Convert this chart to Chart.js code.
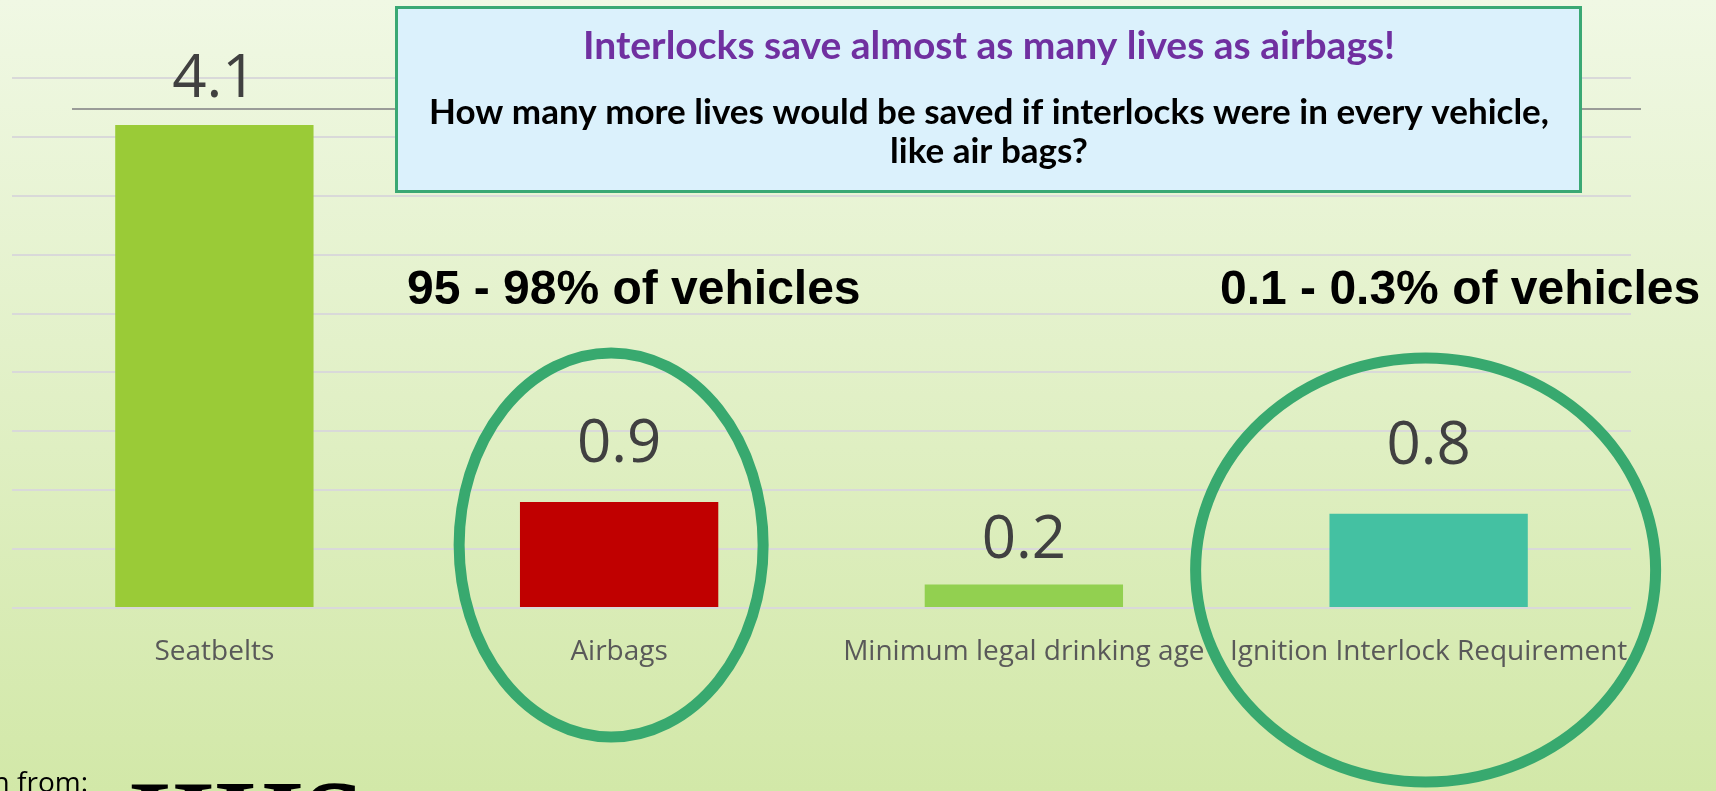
<!DOCTYPE html>
<html>
<head>
<meta charset="utf-8">
<script src="https://cdn.jsdelivr.net/npm/chart.js@4.4.1/dist/chart.umd.min.js"></script>
<style>
  html, body { margin: 0; padding: 0; overflow: hidden; }
  #wrap { width: 1716px; height: 791px; }
</style>
</head>
<body>
<div id="wrap"><canvas id="myChart" width="1716" height="791"></canvas></div>
<script>
// Chart data
const categories = ['Seatbelts', 'Airbags', 'Minimum legal drinking age', 'Ignition Interlock Requirement'];
const livesSaved = [4.1, 0.9, 0.2, 0.8];
const barColors = ['#9acb37', '#c00000', '#92d050', '#44c1a2'];
const yMin = 0;
const yMax = 4.5;
const yStep = 0.5;

// Text on the slide
const boxTitle = 'Interlocks save almost as many lives as airbags!';
const boxLines = ['How many more lives would be saved if interlocks were in every vehicle,', 'like air bags?'];
const shareNotes = ['95 - 98% of vehicles', '0.1 - 0.3% of vehicles'];

// How far each value label sits above its bar (px)
const labelLift = [45, 57, 44, 67];

const ringColor = '#38a96f';

// Slide background
const backgroundPlugin = {
    id: 'slideBackground',
    beforeDraw(chart) {
        const ctx = chart.ctx;
        const g = ctx.createLinearGradient(0, 0, 0, chart.height);
        g.addColorStop(0, '#f0f8e4');
        g.addColorStop(1, '#d2e8a8');
        ctx.save();
        ctx.fillStyle = g;
        ctx.fillRect(0, 0, chart.width, chart.height);
        ctx.restore();
    }
};

// Value labels above the bars
const valueLabelPlugin = {
    id: 'valueLabels',
    afterDatasetsDraw(chart) {
        const ctx = chart.ctx;
        const meta = chart.getDatasetMeta(0);
        ctx.save();
        ctx.fillStyle = '#404040';
        ctx.font = '60px "Open Sans"';
        ctx.textAlign = 'center';
        ctx.textBaseline = 'middle';
        meta.data.forEach(function(bar, i) {
            ctx.fillText(String(livesSaved[i]), bar.x, bar.y - labelLift[i]);
        });
        ctx.restore();
    }
};

// Callout box, notes, rings and footer
const overlayPlugin = {
    id: 'overlays',
    afterDraw(chart) {
        const ctx = chart.ctx;
        const x = chart.scales.x;
        const area = chart.chartArea;
        ctx.save();

        // dark rule line
        ctx.strokeStyle = '#9a9c98';
        ctx.lineWidth = 2;
        ctx.beginPath();
        ctx.moveTo(72, 109);
        ctx.lineTo(area.right + 10, 109);
        ctx.stroke();

        // callout box
        ctx.fillStyle = '#dbf1fc';
        ctx.fillRect(395, 6, 1187, 187);
        ctx.strokeStyle = '#3aa874';
        ctx.lineWidth = 3;
        ctx.strokeRect(396.5, 7.5, 1184, 184);

        ctx.textAlign = 'center';
        ctx.textBaseline = 'middle';
        ctx.fillStyle = '#7030a0';
        ctx.font = 'bold 39px Lato';
        ctx.fillText(boxTitle, 989, 46);
        ctx.fillStyle = '#000000';
        ctx.font = 'bold 35px Lato';
        ctx.fillText(boxLines[0], 989, 113);
        ctx.fillText(boxLines[1], 989, 152);

        // share notes
        ctx.font = 'bold 48px "Liberation Sans"';
        ctx.textAlign = 'left';
        ctx.fillText(shareNotes[0], 407, 291);
        ctx.fillText(shareNotes[1], 1220, 291);

        // rings
        ctx.strokeStyle = ringColor;
        ctx.lineWidth = 11;
        ctx.beginPath();
        ctx.ellipse(x.getPixelForValue(1) - 8, 545, 152, 192, 0, 0, Math.PI * 2);
        ctx.stroke();
        ctx.beginPath();
        ctx.ellipse(x.getPixelForValue(3) - 3, 570, 230, 212, 0, 0, Math.PI * 2);
        ctx.stroke();

        // footer (cut by slide edge)
        ctx.fillStyle = '#000000';
        ctx.textAlign = 'right';
        ctx.textBaseline = 'alphabetic';
        ctx.font = '28px "Open Sans"';
        ctx.fillText('Information from:', 88, 792);
        ctx.textAlign = 'left';
        ctx.font = 'bold 112px "Liberation Serif"';
        ctx.fillText('IIHS', 128, 858);

        ctx.restore();
    }
};

const ctx = document.getElementById('myChart').getContext('2d');
const myChart = new Chart(ctx, {
    type: 'bar',
    data: {
        labels: categories,
        datasets: [
            {
                label: 'Lives saved',
                data: livesSaved,
                backgroundColor: barColors,
                borderWidth: 0,
                categoryPercentage: 1,
                barPercentage: 0.49,
            },
        ],
    },
    options: {
        responsive: false,
        animation: false,
        devicePixelRatio: 1,
        layout: {
            padding: { left: 12, right: 85, top: 78, bottom: 0 }
        },
        plugins: {
            legend: { display: false },
            tooltip: { enabled: false },
        },
        scales: {
            x: {
                grid: { display: false },
                border: { display: false },
                ticks: {
                    color: '#595959',
                    font: { family: 'Open Sans', size: 28 },
                    padding: 19,
                    maxRotation: 0,
                    autoSkip: false,
                },
                afterFit: function(scale) {
                    scale.height = 183;
                }
            },
            y: {
                min: yMin,
                max: yMax,
                ticks: { display: false, stepSize: yStep },
                grid: { color: '#d9d9d9', lineWidth: 2, drawTicks: false },
                border: { display: false },
                afterFit: function(scale) {
                    scale.width = 0;
                }
            }
        }
    },
    plugins: [backgroundPlugin, valueLabelPlugin, overlayPlugin]
});
</script>
</body>
</html>
